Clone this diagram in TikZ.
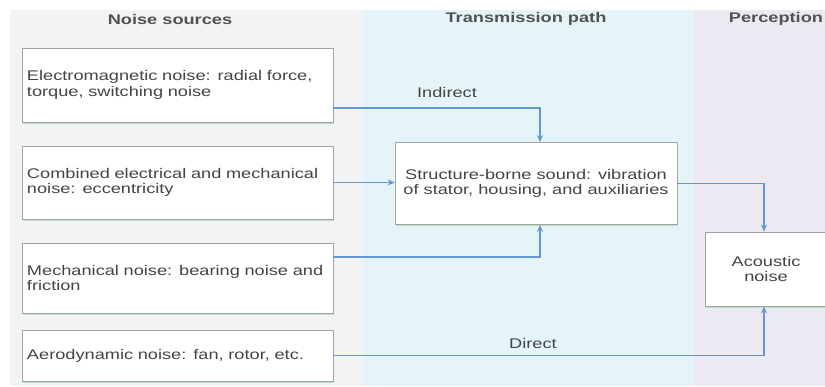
\documentclass[tikz,border=0pt]{standalone}
\usepackage{fontspec}
\setmainfont{Liberation Sans}[FakeStretch=1.3]
\usetikzlibrary{arrows.meta,calc,shadows}
\definecolor{bgleft}{HTML}{F1F3F5}
\definecolor{bgmid}{HTML}{E5F4F8}
\definecolor{bgright}{HTML}{ECE9F2}
\definecolor{arrcol}{HTML}{6598CE}
\definecolor{boxline}{HTML}{A0A4A4}
\definecolor{boxshadow}{HTML}{BFDFC4}
\definecolor{txt}{HTML}{444444}
\begin{document}
\begin{tikzpicture}[x=1pt,y=-1pt,
  every node/.style={font=\fontsize{14pt}{15.5pt}\selectfont, text=txt},
  srcbox/.style={draw=boxline, line width=0.8pt, fill=white, rectangle,
    minimum width=311pt, text width=301pt, inner xsep=5pt, align=left,
    drop shadow={shadow xshift=1.2pt, shadow yshift=-1.5pt, fill=boxshadow, opacity=1}},
  midbox/.style={draw=boxline, line width=0.8pt, fill=white, rectangle, align=center,
    drop shadow={shadow xshift=1.2pt, shadow yshift=-1.5pt, fill=boxshadow, opacity=1}},
  header/.style={font=\fontsize{14pt}{15.5pt}\selectfont\bfseries, text=black!68},
  lbl/.style={font=\fontsize{14pt}{15.5pt}\selectfont, text=txt},
  arr/.style={draw=arrcol, line width=1.5pt, -{Stealth[length=7pt,width=6pt]}}]
\clip (0,0) rectangle (825,386);
\useasboundingbox (0,0) rectangle (825,386);
% backgrounds
\fill[white] (0,0) rectangle (825,386);
\fill[bgleft] (10,10) rectangle (363,386);
\fill[bgmid] (363,10) rectangle (694,386);
\fill[bgright] (694,10) rectangle (825,386);
% headers
\node[header] (h1) at (170,19) {Noise sources};
\node[header] (h2) at (526,19) {Transmission path};
\node[header] (h3) at (776,19) {Perception};
% source boxes
\node[srcbox, minimum height=74pt] (b1) at (177.5,85) {Electromagnetic noise: radial force,\\torque, switching noise};
\node[srcbox, minimum height=73pt] (b2) at (177.5,182.5) {Combined electrical and mechanical\\noise: eccentricity};
\node[srcbox, minimum height=70pt] (b3) at (177.5,278) {Mechanical noise: bearing noise and\\friction};
\node[srcbox, minimum height=51pt] (b4) at (177.5,355.5) {Aerodynamic noise: fan, rotor, etc.};
% transmission
\node[midbox, minimum width=282pt, minimum height=82pt] (sb) at (536,183.5) {Structure-borne sound: vibration\\of stator, housing, and auxiliaries};
% perception
\node[midbox, minimum width=122pt, minimum height=74pt] (an) at (766,269) {Acoustic\\noise};
% connectors
\coordinate (c1) at ($(b1.east)+(0,23)$);
\coordinate (c3) at ($(b3.east)+(0,-21)$);
\draw[arr] (c1) -| ([xshift=4pt]sb.north);
\draw[arr] (b2.east) -- (b2.east -| sb.west);
\draw[arr] (c3) -| ([xshift=4pt]sb.south);
\draw[arr] (sb.east) -| ([xshift=-2pt]an.north);
\draw[arr] (b4.east) -| ([xshift=-2pt]an.south);
% labels
\node[lbl] (li) at (447,92) {Indirect};
\node[lbl] (ld) at (533,343) {Direct};
\end{tikzpicture}
\end{document}
